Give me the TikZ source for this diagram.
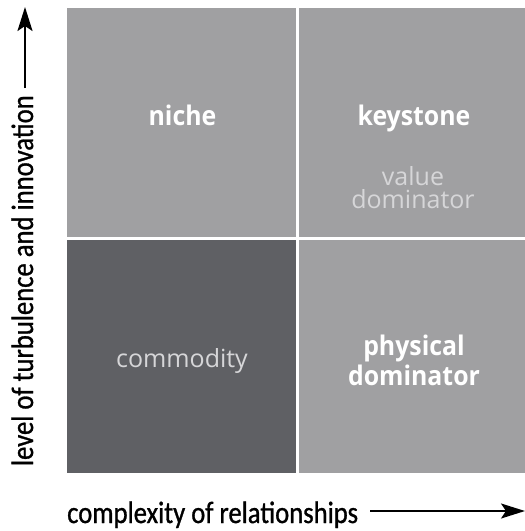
\documentclass[tikz,border=0pt]{standalone}
\usepackage{fontspec}
\setmainfont{Open Sans}
\newfontfamily\tagfont{Open Sans}[FakeStretch=0.92]
\newfontfamily\axisfont{Carlito}[FakeStretch=0.86,FakeBold=0.9]
\usetikzlibrary{arrows.meta}
\definecolor{lightq}{HTML}{A0A0A2}
\definecolor{darkq}{HTML}{5F6064}
\definecolor{softtext}{HTML}{D6D6D8}
\tikzset{
  maintag/.style={text=white,font=\tagfont\fontsize{27}{30}\selectfont\bfseries,align=center,inner sep=0pt},
  subtag/.style={text=softtext,font=\fontsize{25}{23}\selectfont,align=center,inner sep=0pt},
  axislabel/.style={font=\axisfont\fontsize{31}{34}\selectfont,inner sep=0pt},
  axisarrow/.style={line width=2pt,-{Stealth[length=24pt,width=15pt,inset=5pt]}}
}
\begin{document}
\begin{tikzpicture}[x=1pt,y=-1pt]
\useasboundingbox (0,0) rectangle (525,531);
% the four quadrants
\fill[lightq] (67,8) rectangle (296,237);
\fill[lightq] (299,8) rectangle (525,237);
\fill[darkq] (67,240) rectangle (296,473);
\fill[lightq] (299,240) rectangle (525,473);

\node[maintag,anchor=base] (niche) at (182.5,125) {niche};
\node[maintag,anchor=base] (keystone) at (414,125) {keystone};
\node[subtag] (valuedom) at (413,188) {value\\dominator};
\node[subtag,anchor=base] (commodity) at (182,367) {commodity};
\node[maintag] (physdom) at (414,360) {physical\\dominator};

% axes
\node[axislabel,rotate=90,anchor=base east] (ylabel) at (33,95) {level of turbulence and innovation};
\node[axislabel,anchor=base west] (xlabel) at (67,523) {complexity of relationships};
\coordinate (ytip) at (25,7);
\coordinate (xtip) at (525,511);
\draw[axisarrow] (25,88) -- (ytip);
\draw[axisarrow] (370,511) -- (xtip);
\end{tikzpicture}
\end{document}
